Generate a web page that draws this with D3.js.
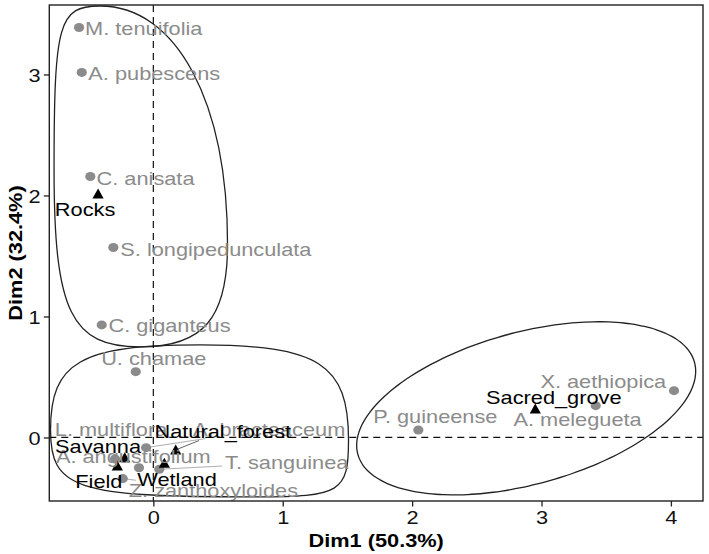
<!DOCTYPE html>
<html><head><meta charset="utf-8">
<script src="https://cdn.jsdelivr.net/npm/d3@7"></script>
<style>body{margin:0;background:#fff} svg{display:block}</style>
</head><body><svg id="chart" width="709" height="554"></svg>
<script>
// ---------------- data ----------------
const speciesNames = ["M. tenuifolia","A. pubescens","C. anisata","S. longipedunculata","C. giganteus","U. chamae","L. multiflora","A. bracteaceum","A. angustifolium","T. sanguinea","Z. zanthoxyloides","P. guineense","A. melegueta","X. aethiopica"];
const speciesDim1 = [-0.574,-0.553,-0.487,-0.309,-0.399,-0.136,-0.296,-0.056,-0.111,0.046,-0.236,2.048,3.419,4.024];
const speciesDim2 = [3.388,3.017,2.157,1.570,0.930,0.544,-0.178,-0.084,-0.250,-0.263,-0.340,0.062,0.263,0.387];
const speciesGroup = [1,1,1,1,1,2,2,2,2,2,2,3,3,3];
const habitatNames = ["Rocks","Natural_forest","Savanna","Field","Wetland","Sacred_grove"];
const habitatDim1 = [-0.427,0.173,-0.221,-0.278,0.085,2.952];
const habitatDim2 = [2.012,-0.103,-0.167,-0.236,-0.213,0.236];
const habitatGroup = [1,2,2,2,2,3];
const xTicks = [0,1,2,3,4];
const yTicks = [0,1,2,3];
const xTitle = "Dim1 (50.3%)";
const yTitle = "Dim2 (32.4%)";
const xDomain = [-0.804, 4.248];
const yDomain = [-0.525, 3.574];

// ---------------- layout (label placement, px) ----------------
const speciesLabelOffset = [[64.7,1],[72.5,0.5],[55.2,2],[102.5,1.5],[67.8,0.5],[18,-13],[-4,-30],[123,-18.7],[-5.7,-11],[127.4,-6.6],[90.6,11.3],[17,-13.3],[-18.2,13.8],[-70.7,-9.7]];
const speciesSegment = [0,0,0,0,0,0,0,1,0,1,1,0,0,0];
const habitatLabelOffset = [[-13,15],[47.1,-19],[-26.7,-11],[-18.5,15],[12.7,15.7],[18.5,-12]];
const habitatSegment = [0,1,0,0,0,0];

// enclosure shapes relative to each group's bounding box (px)
const blobSpec = {
  1: {type:"blob", top:[21,-21.5], right:[114.2,0.731], bottom:[61,22], left:[-25,0.479], k:[0.6,0.72,0.8,0.9]},
  2: {type:"blob", top:[85,-26.7], right:[172.8,0.638], bottom:[140,18.3], left:[-64.5,0.545], k:[0.8,0.92,0.88,0.8]},
  3: {type:"ellipse", offset:[-20,-2], a:174.5, b:76, angle:-15.3}
};

// ---------------- setup ----------------
const W = 709, H = 554;
const margin = {left:49.3, right:6, top:5, bottom:53};
const FS = 18.6, SX = 1.17;
const FONT = "'Liberation Sans', Arial, Helvetica, sans-serif";
const GREY = "#8b8b8b";

const svg = d3.select("#chart");
const x = d3.scaleLinear().domain(xDomain).range([margin.left, W - margin.right]);
const y = d3.scaleLinear().domain(yDomain).range([H - margin.bottom, margin.top]);

const species = speciesNames.map((n,i)=>({name:n, d1:speciesDim1[i], d2:speciesDim2[i], g:speciesGroup[i], off:speciesLabelOffset[i], seg:speciesSegment[i], kind:"sp"}));
const habitats = habitatNames.map((n,i)=>({name:n, d1:habitatDim1[i], d2:habitatDim2[i], g:habitatGroup[i], off:habitatLabelOffset[i], seg:habitatSegment[i], kind:"hab"}));
const all = species.concat(habitats);

const plotG = svg.append("g");
const clipId = "panelclip";
svg.append("clipPath").attr("id", clipId).append("rect")
  .attr("x", margin.left).attr("y", margin.top)
  .attr("width", W - margin.left - margin.right).attr("height", H - margin.top - margin.bottom);

// ---------------- enclosures ----------------
function blobPath(s, box) {
  const h = box.maxY - box.minY;
  const T = [box.minX + s.top[0], box.minY + s.top[1]];
  const R = [box.maxX + s.right[0], box.minY + s.right[1]*h];
  const B = [box.minX + s.bottom[0], box.maxY + s.bottom[1]];
  const L = [box.minX + s.left[0], box.minY + s.left[1]*h];
  const k = s.k;
  const p = d3.path();
  p.moveTo(T[0], T[1]);
  p.bezierCurveTo(T[0] + k[0]*(R[0]-T[0]), T[1], R[0], R[1] - k[0]*(R[1]-T[1]), R[0], R[1]);
  p.bezierCurveTo(R[0], R[1] + k[1]*(B[1]-R[1]), B[0] + k[1]*(R[0]-B[0]), B[1], B[0], B[1]);
  p.bezierCurveTo(B[0] - k[2]*(B[0]-L[0]), B[1], L[0], L[1] + k[2]*(B[1]-L[1]), L[0], L[1]);
  p.bezierCurveTo(L[0], L[1] - k[3]*(L[1]-T[1]), T[0] - k[3]*(T[0]-L[0]), T[1], T[0], T[1]);
  p.closePath();
  return p.toString();
}
function ellipsePath(s, box) {
  const cx = (box.minX + box.maxX)/2 + s.offset[0];
  const cy = (box.minY + box.maxY)/2 + s.offset[1];
  const th = s.angle * Math.PI/180;
  const pts = d3.range(0, 361, 3).map(deg => {
    const t = deg*Math.PI/180;
    const ex = s.a*Math.cos(t), ey = s.b*Math.sin(t);
    return [cx + ex*Math.cos(th) - ey*Math.sin(th), cy + ex*Math.sin(th) + ey*Math.cos(th)];
  });
  return d3.line().curve(d3.curveCardinalClosed.tension(0))(pts);
}
const encG = plotG.append("g").attr("clip-path", `url(#${clipId})`);
[1,2,3].forEach(g => {
  const members = all.filter(d => d.g === g);
  const box = {
    minX: d3.min(members, d => x(d.d1)), maxX: d3.max(members, d => x(d.d1)),
    minY: d3.min(members, d => y(d.d2)), maxY: d3.max(members, d => y(d.d2))
  };
  const s = blobSpec[g];
  encG.append("path")
    .attr("d", s.type === "blob" ? blobPath(s, box) : ellipsePath(s, box))
    .attr("fill", "none").attr("stroke", "#222").attr("stroke-width", 1.3);
});

// ---------------- reference lines ----------------
plotG.append("line").attr("x1", x(0)).attr("x2", x(0)).attr("y1", y.range()[1]).attr("y2", y.range()[0])
  .attr("stroke", "#111").attr("stroke-width", 1.2).attr("stroke-dasharray", "7,5");
plotG.append("line").attr("x1", x.range()[0]).attr("x2", x.range()[1]).attr("y1", y(0)).attr("y2", y(0))
  .attr("stroke", "#111").attr("stroke-width", 1.2).attr("stroke-dasharray", "7,5");

// ---------------- points ----------------
plotG.append("g").selectAll("ellipse").data(species).join("ellipse")
  .attr("cx", d => x(d.d1)).attr("cy", d => y(d.d2))
  .attr("rx", 5.1).attr("ry", 4.5).attr("fill", GREY);
plotG.append("g").selectAll("path").data(habitats).join("path")
  .attr("transform", d => `translate(${x(d.d1)},${y(d.d2)})`)
  .attr("d", "M0,-5.5L5.6,4.5L-5.6,4.5Z").attr("fill", "#000");

// ---------------- labels ----------------
function addLabels(data, color, segColor) {
  const segG = plotG.append("g");
  const txtG = plotG.append("g");
  data.forEach(d => {
    const px = x(d.d1), py = y(d.d2);
    const cx = px + d.off[0], cy = py + d.off[1];
    const t = txtG.append("text")
      .attr("transform", `translate(${cx},${cy + 0.358*FS}) scale(${SX},1)`)
      .attr("text-anchor", "middle")
      .attr("font-family", FONT).attr("font-size", FS)
      .attr("fill", color).text(d.name);
    if (d.seg) {
      const w = t.node().getComputedTextLength()*SX;
      const hw = w/2 + 3, hh = 0.358*FS + 3;
      const dx = cx - px, dy = cy - py;
      let s = Infinity;
      if (dx !== 0) s = Math.min(s, hw/Math.abs(dx));
      if (dy !== 0) s = Math.min(s, hh/Math.abs(dy));
      const ex = cx - dx*s, ey = cy - dy*s;
      segG.append("line").attr("x1", px).attr("y1", py).attr("x2", ex).attr("y2", ey)
        .attr("stroke", segColor).attr("stroke-width", 0.7);
    }
  });
}
addLabels(species, GREY, GREY);
addLabels(habitats, "#000", "#222");

// ---------------- axes / frame ----------------
const axG = svg.append("g");
axG.append("rect").attr("x", margin.left).attr("y", margin.top)
  .attr("width", W - margin.left - margin.right).attr("height", H - margin.top - margin.bottom)
  .attr("fill", "none").attr("stroke", "#222").attr("stroke-width", 1.4);

const xAxis = d3.axisBottom(x).tickValues(xTicks).tickSize(5.5).tickFormat(d3.format("d"));
const yAxis = d3.axisLeft(y).tickValues(yTicks).tickSize(5.5).tickFormat(d3.format("d"));
const gx = axG.append("g").attr("transform", `translate(0,${H - margin.bottom})`).call(xAxis);
const gy = axG.append("g").attr("transform", `translate(${margin.left},0)`).call(yAxis);
[gx, gy].forEach(g => {
  g.select(".domain").remove();
  g.selectAll(".tick line").attr("stroke", "#222").attr("stroke-width", 1.3);
  g.selectAll(".tick text").attr("font-family", FONT).attr("font-size", FS).attr("fill", "#111");
});
gx.selectAll(".tick text").attr("y", null).attr("dy", null)
  .attr("transform", `translate(0,${22.5}) scale(${SX},1)`);
gy.selectAll(".tick text").attr("x", null).attr("dy", null)
  .attr("transform", `translate(-8.8,${0.358*FS}) scale(${SX},1)`);

axG.append("text")
  .attr("transform", `translate(${(margin.left + W - margin.right)/2},${546.5}) scale(${SX},1)`)
  .attr("text-anchor", "middle").attr("font-family", FONT).attr("font-size", FS)
  .attr("font-weight", "bold").attr("fill", "#000").text(xTitle);
axG.append("text")
  .attr("transform", `translate(${21.5},${(margin.top + H - margin.bottom)/2}) rotate(-90) scale(${SX},1)`)
  .attr("text-anchor", "middle").attr("font-family", FONT).attr("font-size", FS)
  .attr("font-weight", "bold").attr("fill", "#000").text(yTitle);
</script></body></html>
